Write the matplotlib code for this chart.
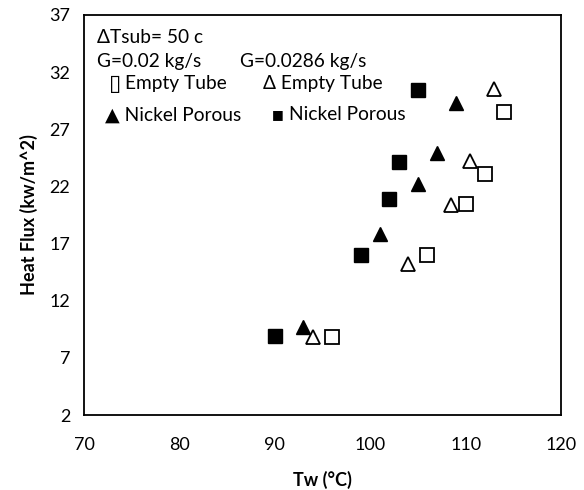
import matplotlib.pyplot as plt
import numpy as np

plt.rcParams['font.family'] = ['Lato', 'DejaVu Sans']

# G = 0.02 kg/s, empty tube (open squares)
empty_sq_x = [96, 106, 110, 112, 114]
empty_sq_y = [8.8, 16.0, 20.5, 23.1, 28.5]
# G = 0.0286 kg/s, empty tube (open triangles)
empty_tri_x = [94, 104, 108.5, 110.5, 113]
empty_tri_y = [8.8, 15.2, 20.4, 24.2, 30.5]
# G = 0.02 kg/s, nickel porous (filled triangles)
nickel_tri_x = [93, 101, 105, 107, 109]
nickel_tri_y = [9.7, 17.8, 22.2, 24.9, 29.3]
# G = 0.0286 kg/s, nickel porous (filled squares)
nickel_sq_x = [90, 99, 102, 103, 105]
nickel_sq_y = [8.9, 16.0, 20.9, 24.1, 30.4]

x_ticks = np.arange(70, 121, 10)
y_ticks = np.arange(2, 38, 5)

fig = plt.figure(figsize=(5.84, 4.90), dpi=100)
ax = fig.add_axes([84 / 584, 75 / 490, 477 / 584, 400 / 490])

ax.plot(empty_sq_x, empty_sq_y, linestyle='none', marker='s', markersize=10,
        markerfacecolor='white', markeredgecolor='black', markeredgewidth=1.3)
ax.plot(empty_tri_x, empty_tri_y, linestyle='none', marker='^', markersize=10,
        markerfacecolor='white', markeredgecolor='black', markeredgewidth=1.3)
ax.plot(nickel_tri_x, nickel_tri_y, linestyle='none', marker='^', markersize=10,
        color='black')
ax.plot(nickel_sq_x, nickel_sq_y, linestyle='none', marker='s', markersize=10,
        color='black')

ax.set_xlim(70, 120)
ax.set_ylim(2, 37)
ax.set_xticks(x_ticks)
ax.set_yticks(y_ticks)
ax.tick_params(length=0, labelsize=13)
ax.tick_params(axis='x', pad=16)
ax.tick_params(axis='y', pad=10)
for s in ax.spines.values():
    s.set_linewidth(1.3)
    s.set_color('black')

ax.set_xlabel('Tw (°C)', fontsize=13, fontweight='bold', labelpad=13)
ax.set_ylabel('Heat Flux (kw/m^2)', fontsize=13, fontweight='bold', labelpad=8)

# hand-made legend text box
fs = 13.8
kw = dict(transform=ax.transAxes, fontsize=fs, va='center')
ax.text(0.027, 0.9425, 'ΔTsub= 50 c', **kw)
ax.text(0.027, 0.8825, 'G=0.02 kg/s', **kw)
ax.text(0.327, 0.8825, 'G=0.0286 kg/s', **kw)
ax.text(0.052, 0.8275, '▯', transform=ax.transAxes, fontsize=16,
        fontweight='bold', va='center', family='DejaVu Sans')
ax.text(0.085, 0.8275, 'Empty Tube', **kw)
ax.text(0.375, 0.8275, 'Δ Empty Tube', **kw)
ax.text(0.044, 0.75, '▲ Nickel Porous', **kw)
ax.text(0.394, 0.75, '■', transform=ax.transAxes, fontsize=9,
        va='center', family='DejaVu Sans')
ax.text(0.430, 0.75, 'Nickel Porous', **kw)

fig.savefig('out.png', dpi=100)
